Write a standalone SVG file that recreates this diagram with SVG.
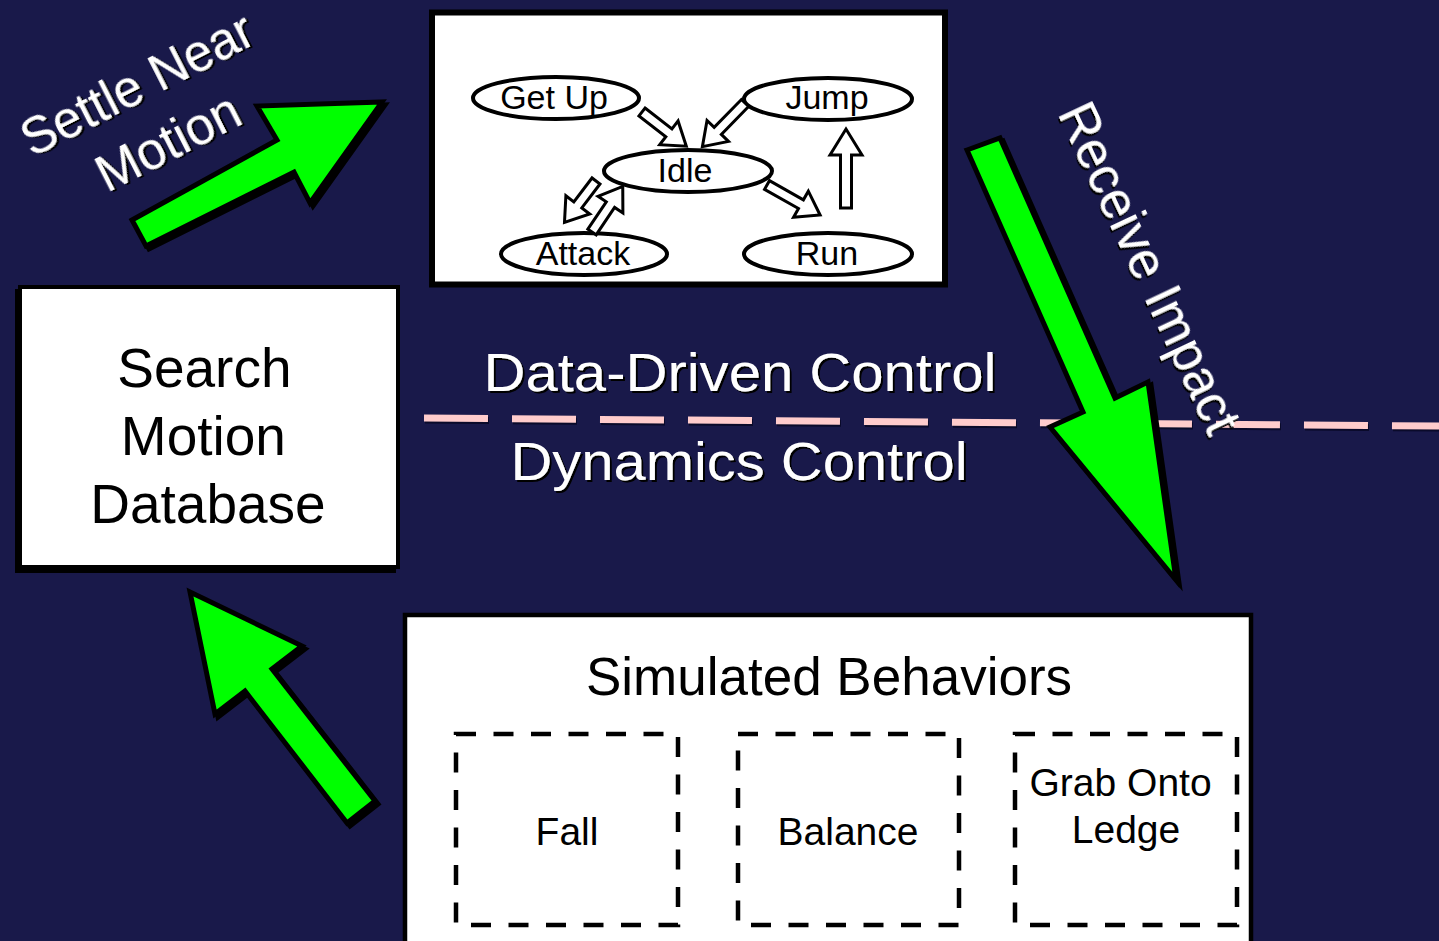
<svg xmlns="http://www.w3.org/2000/svg" width="1439" height="941" viewBox="0 0 1439 941">
  <defs>
    <filter id="drop" x="-10%" y="-10%" width="130%" height="130%">
      <feDropShadow dx="2" dy="2" stdDeviation="0" flood-color="#000" flood-opacity="1"/>
    </filter>
    <filter id="dropBig" x="-10%" y="-10%" width="130%" height="130%">
      <feDropShadow dx="3" dy="3" stdDeviation="0" flood-color="#000" flood-opacity="1"/>
    </filter>
  </defs>
  <style>
    .lbl { font-family: "Liberation Sans", Arial, sans-serif; }
    .white { fill: #fff; filter: url(#drop); }
    .black { fill: #000; }
    .panel { fill: #fff; stroke: #000; }
    .state { fill: #fff; stroke: #000; stroke-width: 4; }
    .flow { fill: #fff; stroke: #000; stroke-width: 3; stroke-linejoin: miter; }
    .big { fill: #00ff00; stroke: #000; stroke-width: 5; stroke-linejoin: miter; filter: url(#dropBig); }
    .sub { fill: none; stroke: #000; stroke-width: 4.5; stroke-dasharray: 20 17.5; }
  </style>

  <!-- background -->
  <rect x="0" y="0" width="1439" height="941" fill="#19194a"/>

  <!-- boundary between the two control layers -->
  <g id="layer-divider">
    <line x1="425" y1="420" x2="1439" y2="428" stroke="#0a0a2a" stroke-width="7" stroke-dasharray="64 24"/>
    <line x1="424" y1="418" x2="1439" y2="426" stroke="#ffcccc" stroke-width="7" stroke-dasharray="64 24"/>
  </g>

  <g id="layer-labels">
    <text class="lbl white" x="740" y="391" font-size="54" text-anchor="middle" textLength="513" lengthAdjust="spacingAndGlyphs">Data-Driven Control</text>
    <text class="lbl white" x="739" y="480" font-size="54" text-anchor="middle" textLength="457" lengthAdjust="spacingAndGlyphs">Dynamics Control</text>
  </g>

  <!-- state machine panel -->
  <g id="state-machine">
    <rect class="panel" x="432" y="12.5" width="513" height="272" stroke-width="6"/>
    <g id="state-getup">
      <ellipse class="state" cx="556" cy="98" rx="83" ry="21"/>
      <text class="lbl black" x="554" y="109" font-size="34" text-anchor="middle">Get Up</text>
    </g>
    <g id="state-jump">
      <ellipse class="state" cx="828" cy="99" rx="84" ry="21"/>
      <text class="lbl black" x="827" y="109" font-size="34" text-anchor="middle">Jump</text>
    </g>
    <g id="state-idle">
      <ellipse class="state" cx="688" cy="171" rx="84" ry="21"/>
      <text class="lbl black" x="685" y="182" font-size="34" text-anchor="middle">Idle</text>
    </g>
    <g id="state-attack">
      <ellipse class="state" cx="584" cy="254" rx="83" ry="21"/>
      <text class="lbl black" x="583" y="265" font-size="34" text-anchor="middle">Attack</text>
    </g>
    <g id="state-run">
      <ellipse class="state" cx="828" cy="254" rx="84" ry="21"/>
      <text class="lbl black" x="827" y="265" font-size="34" text-anchor="middle">Run</text>
    </g>
  </g>

  <!-- motion database -->
  <g id="motion-database">
    <rect x="15" y="289" width="381" height="284" fill="#000"/>
    <rect class="panel" x="20" y="287" width="378" height="280" stroke-width="4"/>
    <text class="lbl black" font-size="55" text-anchor="middle">
      <tspan x="212" y="387">Search</tspan>
      <tspan x="211" y="455">Motion</tspan>
      <tspan x="208" y="523">Database</tspan>
    </text>
  </g>

  <!-- simulated behaviours panel -->
  <g id="simulated-behaviors">
    <rect class="panel" x="405" y="615" width="846" height="340" stroke-width="4.5"/>
    <text class="lbl black" x="829" y="695" font-size="53" text-anchor="middle">Simulated Behaviors</text>
    <g id="behavior-fall">
      <rect class="sub" x="456" y="734" width="222" height="191"/>
      <text class="lbl black" x="567" y="845" font-size="39" text-anchor="middle">Fall</text>
    </g>
    <g id="behavior-balance">
      <rect class="sub" x="738" y="734" width="221" height="191"/>
      <text class="lbl black" x="848" y="845" font-size="39" text-anchor="middle">Balance</text>
    </g>
    <g id="behavior-grab">
      <rect class="sub" x="1015" y="734" width="222" height="191"/>
      <text class="lbl black" font-size="39" text-anchor="middle">
        <tspan x="1126" y="796">Grab Onto</tspan>
        <tspan x="1126" y="843">Ledge</tspan>
      </text>
    </g>
  </g>

  <!-- transitions -->
  <g id="connectors">
    <!-- state machine transitions -->
    <path class="flow" transform="translate(642,112) rotate(37.7)" d="M0,-5 L34,-5 L34,-15 L56,0 L34,15 L34,5 L0,5 Z"/>
    <path class="flow" transform="translate(745,103) rotate(134.3)" d="M0,-5 L39,-5 L39,-15 L61,0 L39,15 L39,5 L0,5 Z"/>
    <path class="flow" transform="translate(596,181) rotate(127.3)" d="M0,-5 L30,-5 L30,-15 L52,0 L30,15 L30,5 L0,5 Z"/>
    <path class="flow" transform="translate(592,232) rotate(-56)" d="M0,-5 L33,-5 L33,-15 L55,0 L33,15 L33,5 L0,5 Z"/>
    <path class="flow" transform="translate(767,185) rotate(29.5)" d="M0,-5 L39,-5 L39,-15 L61,0 L39,15 L39,5 L0,5 Z"/>
    <path class="flow" transform="translate(846,208) rotate(-90)" d="M0,-5.5 L53,-5.5 L53,-16 L79,0 L53,16 L53,5.5 L0,5.5 Z"/>

    <!-- layer-to-layer flows -->
    <polygon class="big" points="132,220 277,140 257,106 382,102 310,203 294,172 146,246"/>
    <polygon class="big" points="967,150 1000,138 1115,398 1148,382 1176,580 1050,427 1083,412"/>
    <polygon class="big" points="190,592 302,646 272,669 375,801 347,823 245,691 215,714"/>
  </g>

  <!-- flow labels -->
  <g id="flow-labels">
    <text class="lbl white" font-size="51" text-anchor="middle" transform="translate(145,100) rotate(-27)" x="0" y="0" textLength="254" lengthAdjust="spacingAndGlyphs">Settle Near</text>
    <text class="lbl white" font-size="51" text-anchor="middle" transform="translate(176,158) rotate(-27)" x="0" y="0" textLength="155" lengthAdjust="spacingAndGlyphs">Motion</text>
    <text class="lbl white" font-size="53" transform="translate(1057,113) rotate(64.8)" x="0" y="0" textLength="359" lengthAdjust="spacingAndGlyphs">Receive Impact</text>
  </g>
</svg>
